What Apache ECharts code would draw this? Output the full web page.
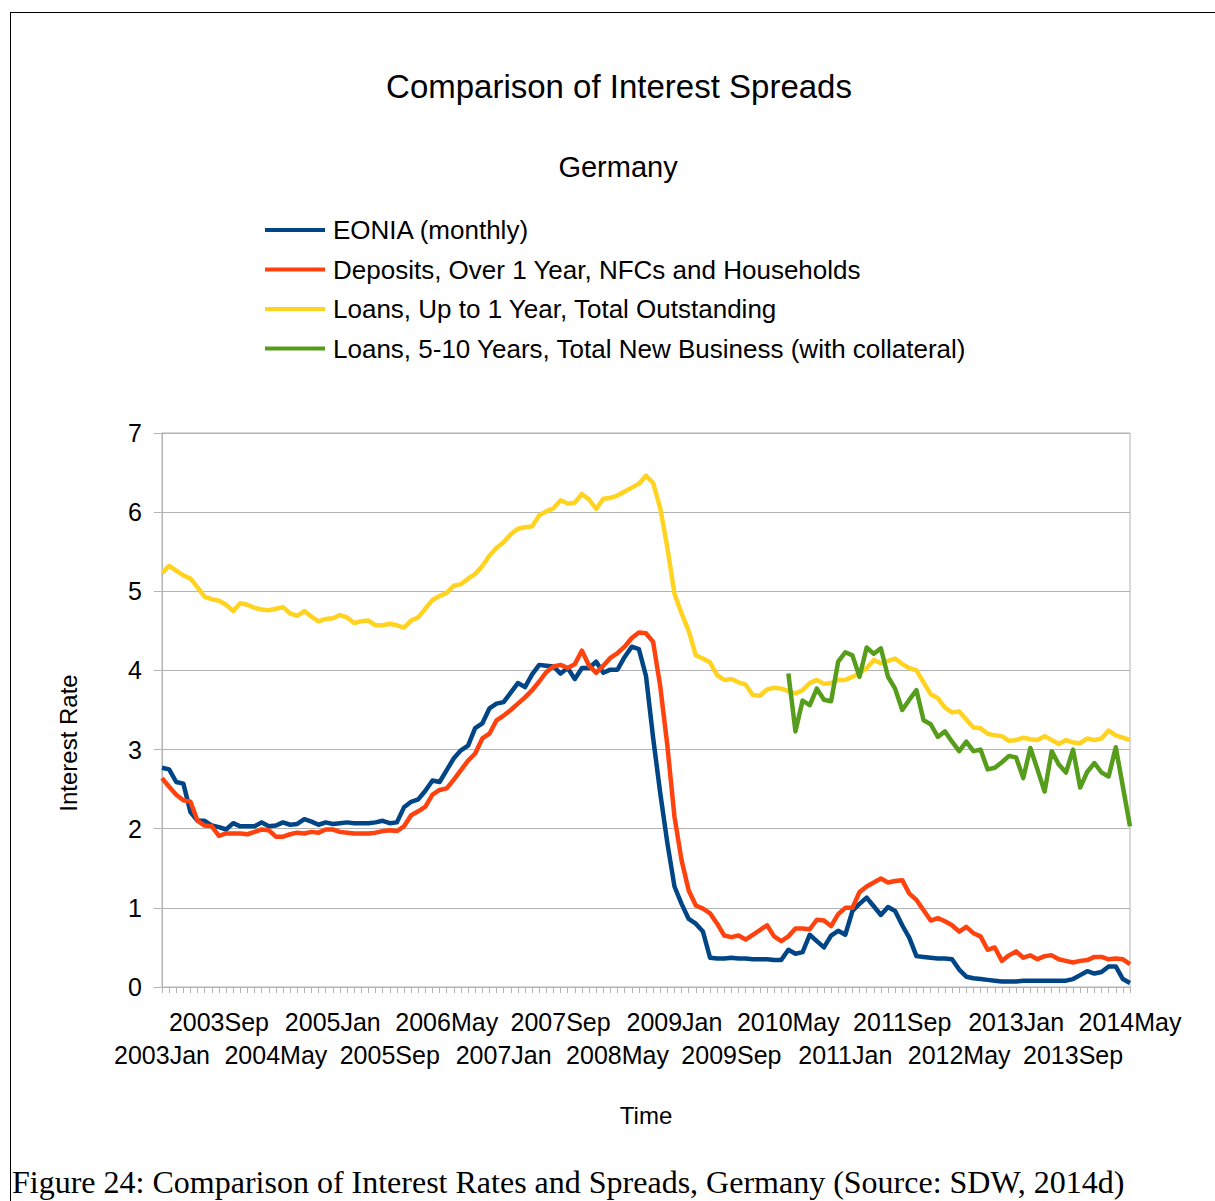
<!DOCTYPE html>
<html>
<head>
<meta charset="utf-8">
<script src="https://cdn.jsdelivr.net/npm/echarts@6/dist/echarts.min.js"></script>
<style>
html,body{margin:0;padding:0;background:#fff;}
#chart{width:1215px;height:1201px;}
</style>
</head>
<body>
<div id="chart"></div>
<script>
// ---- Data ----
const years = [2003,2004,2005,2006,2007,2008,2009,2010,2011,2012,2013,2014];
const monthNames = ['Jan','Feb','Mar','Apr','May','Jun','Jul','Aug','Sep','Oct','Nov','Dec'];
const lastMonthCount2014 = 5; // data runs to 2014May

const seriesNames = [
  'EONIA (monthly)',
  'Deposits, Over 1 Year, NFCs and Households',
  'Loans, Up to 1 Year, Total Outstanding',
  'Loans, 5-10 Years, Total New Business (with collateral)'
];

const eonia = [
  2.77,2.75,2.59,2.57,2.21,2.10,2.10,2.04,2.02,1.99,
  2.07,2.03,2.03,2.03,2.08,2.03,2.04,2.08,2.05,2.06,
  2.12,2.09,2.05,2.08,2.06,2.07,2.08,2.07,2.07,2.07,
  2.08,2.10,2.07,2.08,2.27,2.34,2.37,2.48,2.61,2.59,
  2.74,2.89,2.99,3.05,3.27,3.33,3.52,3.58,3.60,3.72,
  3.84,3.79,3.95,4.07,4.06,4.05,3.96,4.03,3.89,4.03,
  4.03,4.11,3.97,4.01,4.01,4.17,4.30,4.27,3.93,3.15,
  2.45,1.82,1.27,1.05,0.86,0.80,0.70,0.37,0.36,0.36,
  0.37,0.36,0.36,0.35,0.35,0.35,0.34,0.34,0.47,0.42,
  0.44,0.66,0.58,0.50,0.65,0.71,0.66,0.96,1.05,1.13,
  1.02,0.91,1.01,0.96,0.78,0.62,0.39,0.38,0.37,0.36,
  0.36,0.35,0.22,0.13,0.11,0.10,0.09,0.08,0.07,0.07,
  0.07,0.08,0.08,0.08,0.08,0.08,0.08,0.08,0.10,0.15,
  0.20,0.17,0.19,0.26,0.26,0.10,0.05
];

const deposits = [
  2.64,2.53,2.43,2.36,2.34,2.10,2.04,2.03,1.91,1.94,
  1.94,1.94,1.93,1.96,1.99,1.98,1.90,1.90,1.93,1.95,
  1.94,1.96,1.95,1.99,1.99,1.96,1.95,1.94,1.94,1.94,
  1.95,1.97,1.98,1.97,2.03,2.17,2.22,2.28,2.43,2.49,
  2.51,2.62,2.74,2.86,2.95,3.14,3.20,3.37,3.43,3.50,
  3.58,3.66,3.75,3.86,3.98,4.05,4.07,4.03,4.08,4.25,
  4.06,3.97,4.06,4.16,4.22,4.30,4.41,4.48,4.47,4.36,
  3.80,3.05,2.15,1.60,1.22,1.03,0.99,0.93,0.80,0.65,
  0.63,0.65,0.60,0.66,0.72,0.78,0.64,0.58,0.64,0.74,
  0.74,0.73,0.85,0.84,0.77,0.92,1.00,1.00,1.20,1.27,
  1.32,1.37,1.32,1.34,1.35,1.18,1.10,0.97,0.84,0.87,
  0.83,0.78,0.70,0.76,0.68,0.64,0.47,0.50,0.33,0.40,
  0.45,0.37,0.40,0.35,0.39,0.40,0.35,0.33,0.31,0.33,
  0.34,0.38,0.38,0.35,0.36,0.35,0.29
];

const loansShort = [
  5.23,5.32,5.26,5.20,5.16,5.05,4.93,4.90,4.88,4.83,
  4.75,4.85,4.83,4.79,4.77,4.76,4.78,4.80,4.72,4.69,
  4.75,4.68,4.62,4.65,4.66,4.70,4.67,4.60,4.62,4.63,
  4.57,4.57,4.59,4.57,4.54,4.63,4.67,4.78,4.89,4.94,
  4.98,5.07,5.09,5.16,5.22,5.32,5.45,5.55,5.62,5.72,
  5.79,5.81,5.82,5.96,6.01,6.05,6.15,6.11,6.12,6.23,
  6.16,6.04,6.17,6.18,6.21,6.26,6.31,6.36,6.46,6.37,
  6.05,5.55,4.97,4.72,4.50,4.19,4.15,4.10,3.94,3.88,
  3.89,3.85,3.82,3.69,3.68,3.76,3.78,3.77,3.74,3.71,
  3.75,3.84,3.88,3.83,3.84,3.88,3.88,3.92,3.96,4.03,
  4.13,4.09,4.12,4.15,4.08,4.03,4.00,3.85,3.70,3.65,
  3.53,3.47,3.48,3.38,3.28,3.27,3.20,3.18,3.17,3.11,
  3.12,3.15,3.13,3.12,3.17,3.12,3.07,3.12,3.09,3.08,
  3.14,3.12,3.14,3.24,3.18,3.15,3.12
];

const loansLongStart = '2010May';
const loansLong = [
  3.96,3.23,3.62,3.56,3.77,3.63,3.61,4.11,4.23,4.19,
  3.92,4.29,4.21,4.28,3.92,3.77,3.50,3.63,3.75,3.37,
  3.32,3.16,3.23,3.10,2.98,3.10,2.98,3.00,2.75,2.77,
  2.84,2.92,2.90,2.64,3.02,2.75,2.47,2.98,2.81,2.71,
  3.00,2.52,2.72,2.83,2.71,2.66,3.03,2.53,2.03
];

const yTicks = [0,1,2,3,4,5,6,7];

// ---- Build categories ----
const categories = [];
years.forEach(y => {
  const n = (y === 2014) ? lastMonthCount2014 : 12;
  for (let m = 0; m < n; m++) categories.push(y + monthNames[m]);
});
const longStartIdx = categories.indexOf(loansLongStart);
const loansLongFull = categories.map((c, i) => (i >= longStartIdx && i - longStartIdx < loansLong.length) ? loansLong[i - longStartIdx] : null);

const colors = ['#004586', '#ff420e', '#ffd320', '#579d1c'];
const FONT = '"Liberation Sans", Arial, sans-serif';

const chart = echarts.init(document.getElementById('chart'), null, {renderer: 'svg'});

const mkSeries = (name, data, color) => ({
  name, type: 'line', data, symbol: 'none', showSymbol: false, xAxisIndex: 0,
  lineStyle: {width: 4.5, color, join: 'round'}, itemStyle: {color},
  connectNulls: false, animation: false
});

const labelBase = {fontFamily: FONT, fontSize: 25, color: '#000', hideOverlap: false};

chart.setOption({
  backgroundColor: '#ffffff',
  animation: false,
  title: [
    {text: 'Comparison of Interest Spreads', left: 619, top: 70, textAlign: 'center', padding: 0,
     textStyle: {fontFamily: FONT, fontSize: 33, fontWeight: 'normal', color: '#000'}},
    {text: 'Germany', left: 618, top: 152, textAlign: 'center', padding: 0,
     textStyle: {fontFamily: FONT, fontSize: 29, fontWeight: 'normal', color: '#000'}}
  ],
  legend: {
    orient: 'vertical', left: 265, top: 215, padding: 0,
    icon: 'rect', itemWidth: 60, itemHeight: 4, itemGap: 9.5,
    selectedMode: false,
    data: seriesNames,
    textStyle: {fontFamily: FONT, fontSize: 26, color: '#000', lineHeight: 30, padding: [0,0,0,3]}
  },
  grid: {left: 162, right: 85, top: 433, bottom: 214, show: true, borderColor: '#b3b3b3', borderWidth: 1, containLabel: false},
  xAxis: [
    {
      type: 'category', data: categories, boundaryGap: false, position: 'bottom',
      name: 'Time', nameLocation: 'middle', nameGap: 116,
      nameTextStyle: {fontFamily: FONT, fontSize: 24, color: '#000'},
      axisLine: {lineStyle: {color: '#b3b3b3'}},
      axisTick: {show: true, interval: 0, length: 6, lineStyle: {color: '#b3b3b3'}},
      axisLabel: Object.assign({}, labelBase, {
        margin: 22, showMaxLabel: true,
        interval: (idx) => idx % 16 === 8
      }),
      splitLine: {show: false}
    },
    {
      type: 'category', data: categories, boundaryGap: false, position: 'bottom', offset: 0,
      axisLine: {show: false},
      axisTick: {show: false},
      axisLabel: Object.assign({}, labelBase, {
        margin: 55, showMinLabel: true,
        interval: (idx) => idx % 16 === 0
      }),
      splitLine: {show: false}
    }
  ],
  yAxis: {
    type: 'value', min: yTicks[0], max: yTicks[yTicks.length - 1], interval: 1,
    name: 'Interest Rate', nameLocation: 'middle', nameGap: 82, nameRotate: 90,
    nameTextStyle: {fontFamily: FONT, fontSize: 24, color: '#000', padding: [0, 66, 0, 0]},
    axisLine: {show: true, lineStyle: {color: '#b3b3b3'}},
    axisTick: {show: true, length: 8, lineStyle: {color: '#b3b3b3'}},
    axisLabel: {margin: 20, fontFamily: FONT, fontSize: 25, color: '#000'},
    splitLine: {show: true, lineStyle: {color: '#b3b3b3', width: 1}}
  },
  series: [
    mkSeries(seriesNames[0], eonia, colors[0]),
    mkSeries(seriesNames[1], deposits, colors[1]),
    mkSeries(seriesNames[2], loansShort, colors[2]),
    mkSeries(seriesNames[3], loansLongFull, colors[3])
  ],
  graphic: [
    {type: 'line', shape: {x1: 10, y1: 12.5, x2: 1215, y2: 12.5}, style: {stroke: '#000', lineWidth: 1}, silent: true},
    {type: 'line', shape: {x1: 10.5, y1: 12, x2: 10.5, y2: 1201}, style: {stroke: '#000', lineWidth: 1}, silent: true},
    {type: 'text', left: 12, top: 1166, silent: true,
     style: {text: 'Figure 24: Comparison of Interest Rates and Spreads, Germany (Source: SDW, 2014d)',
             font: '32px "Liberation Serif", "Times New Roman", serif', fill: '#000'}}
  ]
});
</script>
</body>
</html>
